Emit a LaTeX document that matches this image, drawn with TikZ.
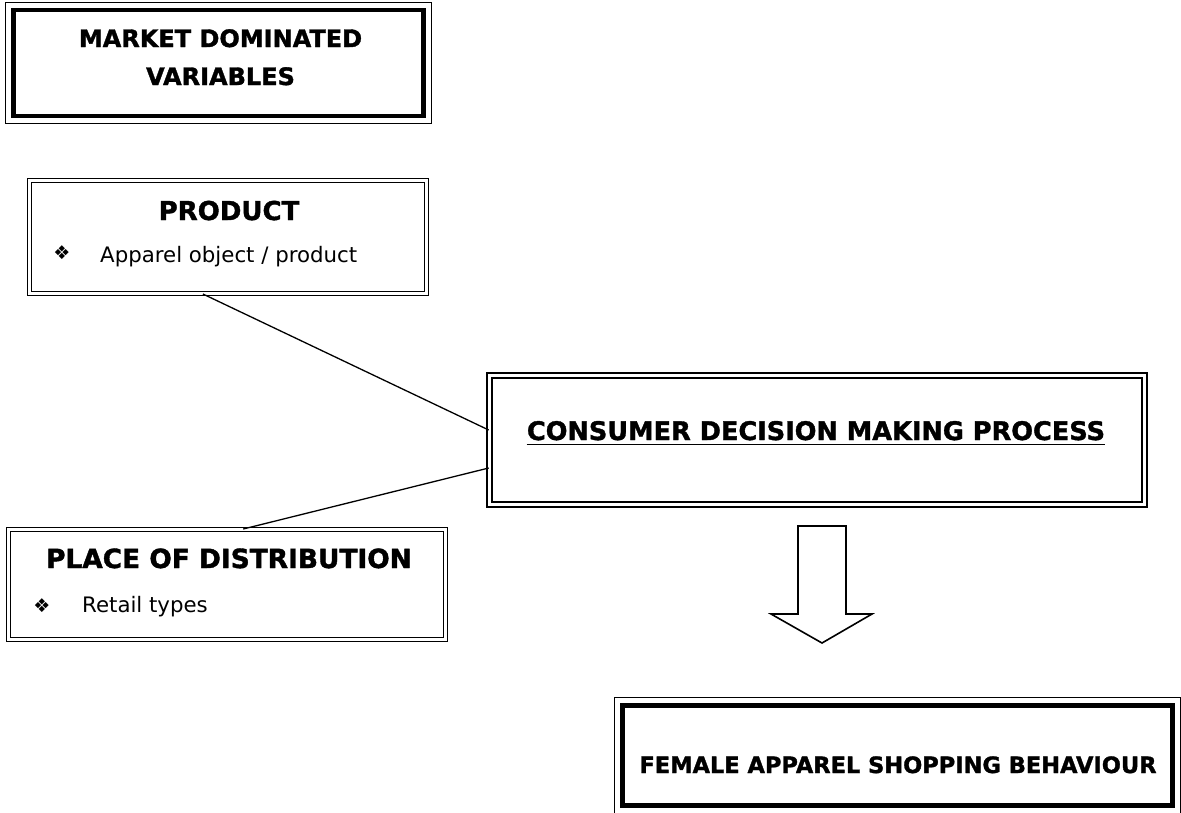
\documentclass[tikz,border=0pt]{standalone}
\usepackage{fontspec}
\setmainfont{DejaVu Sans}[BoldFeatures={FakeBold=1.4}]
\usetikzlibrary{calc}
\newcommand{\fs}[1]{\fontsize{#1}{#1}\selectfont}
\begin{document}
\begin{tikzpicture}[x=1pt,y=-1pt,
  heavybox/.style={draw, line width=4.5pt, inner sep=0pt},
  outerline/.style={line width=1.4pt},
  dblbox/.style={draw, double, double distance=2.6pt, line width=1.4pt, inner sep=0pt},
  widebox/.style={draw, double, double distance=3.4pt, line width=1.6pt, inner sep=0pt},
  link/.style={line width=1.3pt},
  head/.style={inner sep=0pt, anchor=base, font=\bfseries},
  item/.style={inner sep=0pt, anchor=base west},
  bullet/.style={inner sep=0pt, font=\fs{19}},
  blockarrow/.style={draw, line width=1.6pt, fill=white, line join=miter}]
\useasboundingbox[fill=white] (0,0) rectangle (1181,812);

% market dominated variables (thin outer frame, heavy inner frame)
\node[heavybox, minimum width=410pt, minimum height=106pt] (mkt) at (218.5,63) {};
\draw[outerline] ([shift={(-5.5pt,5.5pt)}]mkt.north west) rectangle ([shift={(5.5pt,-5.5pt)}]mkt.south east);
\node[head, font=\bfseries\fs{24}] (mkttxt) at (220.5,47) {MARKET DOMINATED};
\node[head, font=\bfseries\fs{24}] (mkttxt2) at (220.5,85) {VARIABLES};

% product
\node[dblbox, minimum width=396.6pt, minimum height=112.6pt] (prod) at (228,237) {};
\node[head, font=\bfseries\fs{26}] (prodtxt) at (229,220) {PRODUCT};
\node[bullet] (prodbul) at (62,253) {❖};
\node[item, font=\fs{21.3}] (proditem) at (100,262) {Apparel object / product};

% place of distribution
\node[dblbox, minimum width=436.6pt, minimum height=109.6pt] (place) at (227,584.5) {};
\node[head, font=\bfseries\fs{26.4}] (placetxt) at (229,568) {PLACE OF DISTRIBUTION};
\node[bullet] (placebul) at (42,606) {❖};
\node[item, font=\fs{21.3}] (placeitem) at (82,612) {Retail types};

% consumer decision making process
\node[widebox, minimum width=655pt, minimum height=129pt] (cdm) at (817,440) {};
\node[head, font=\bfseries\fs{25.6}] (cdmtxt) at (816,440) {CONSUMER DECISION MAKING PROCESS};
\draw[line width=1.8pt] ([yshift=-4.5pt]cdmtxt.base west) -- ([yshift=-4.5pt]cdmtxt.base east);

% female apparel shopping behaviour
\node[heavybox, minimum width=550pt, minimum height=100pt] (fem) at (897.5,755.5) {};
\draw[outerline] ([shift={(-5.5pt,5.5pt)}]fem.north west) rectangle ([shift={(5.5pt,-5.5pt)}]fem.south east);
\node[head, font=\bfseries\fs{22.5}] (femtxt) at (898,773) {FEMALE APPAREL SHOPPING BEHAVIOUR};

% links into the decision process
\coordinate (prodfoot) at ($(prod.south west)!0.437!(prod.south east)$);
\coordinate (placetop) at ($(place.north west)!0.537!(place.north east)$);
\draw[link] (prodfoot) -- ([yshift=10pt]cdm.west);
\draw[link] (placetop) -- ([yshift=-28pt]cdm.west);

% block arrow from the process down to the behaviour
\coordinate (arr) at (822,526);
\draw[blockarrow] ([xshift=-24pt]arr) -- ([xshift=24pt]arr) -- ++(0,88) -- ++(26,0)
  -- ([yshift=-117pt]arr) -- ++(-51,-29) -- ++(27,0) -- cycle;
\end{tikzpicture}
\end{document}
